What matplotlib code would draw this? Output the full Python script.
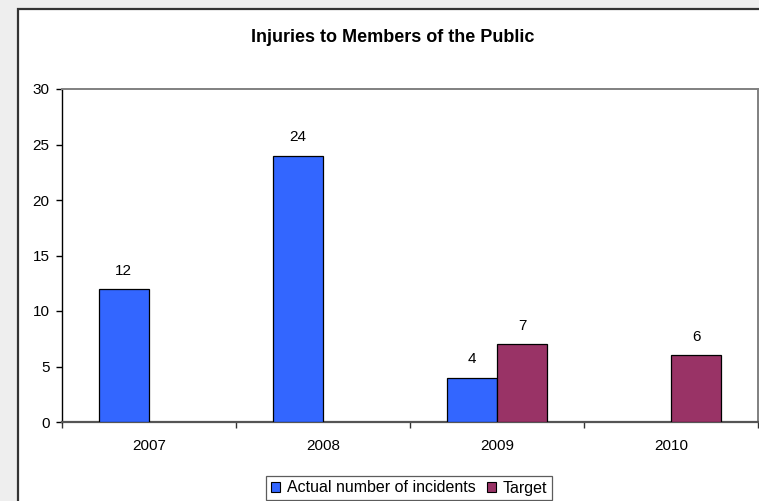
import matplotlib.pyplot as plt
from matplotlib.patches import Rectangle
import numpy as np

plt.rcParams['font.family'] = ['Liberation Sans', 'DejaVu Sans']

years = ['2007', '2008', '2009', '2010']
actual = [12, 24, 4, None]
target = [None, None, 7, 6]
yticks = [0, 5, 10, 15, 20, 25, 30]

fig = plt.figure(figsize=(7.59, 5.01), dpi=100, facecolor='#eeeeee')

# white chart frame running off the right and bottom edges
frame = Rectangle((18 / 759, -0.05), 1.0, 1 - 9 / 501 + 0.05, transform=fig.transFigure,
                  facecolor='white', edgecolor='#333333', lw=1.6, zorder=-5)
fig.add_artist(frame)

ax = fig.add_axes([62 / 759, 1 - 422 / 501, 696 / 759, 333 / 501])
ax.set_facecolor('white')

x = np.arange(len(years))
w = 0.29
blue = '#3366ff'
maroon = '#993366'

for i, v in enumerate(actual):
    if v is None:
        continue
    ax.bar(x[i] - w / 2, v, w, color=blue, edgecolor='black', lw=0.9, zorder=3)
    ax.annotate(str(v), (x[i] - w / 2, v), xytext=(0, 8), textcoords='offset points',
                ha='center', va='bottom', fontsize=11)
for i, v in enumerate(target):
    if v is None:
        continue
    ax.bar(x[i] + w / 2, v, w, color=maroon, edgecolor='black', lw=0.9, zorder=3)
    ax.annotate(str(v), (x[i] + w / 2, v), xytext=(0, 8), textcoords='offset points',
                ha='center', va='bottom', fontsize=11)

ax.set_xlim(-0.5, len(years) - 0.5)
ax.set_ylim(0, 30)
ax.set_yticks(yticks)
ax.set_yticklabels([str(t) for t in yticks])
ax.set_xticks(x)
ax.set_xticklabels(years)
ax.set_xticks(np.arange(len(years) + 1) - 0.5, minor=True)
ax.tick_params(axis='x', which='major', length=0, pad=12, labelsize=11)
ax.tick_params(axis='x', which='minor', length=4, width=1, color='#333333', direction='out')
ax.tick_params(axis='y', length=4, width=1, color='black', direction='out', pad=5, labelsize=11)

for side in ['top', 'right']:
    ax.spines[side].set_color('#808080')
    ax.spines[side].set_linewidth(1.4)
ax.spines['left'].set_color('black')
ax.spines['left'].set_linewidth(1.0)
ax.spines['bottom'].set_color('#555555')
ax.spines['bottom'].set_linewidth(1.6)

fig.text(393 / 759, 1 - 37 / 501, 'Injuries to Members of the Public',
         ha='center', va='center', fontsize=13, fontweight='bold')

handles = [Rectangle((0, 0), 1, 1, facecolor=blue, edgecolor='black', lw=0.8),
           Rectangle((0, 0), 1, 1, facecolor=maroon, edgecolor='black', lw=0.8)]
leg = fig.legend(handles, ['Actual number of incidents', 'Target'], ncol=2,
                 loc='center', bbox_to_anchor=(409 / 759, 1 - 488 / 501),
                 fontsize=11.5, frameon=True, fancybox=False, handlelength=0.6,
                 handleheight=0.6, handletextpad=0.4, columnspacing=0.7,
                 borderpad=0.3, borderaxespad=0)
leg.get_frame().set_edgecolor('#333333')
leg.get_frame().set_linewidth(0.9)

fig.savefig('out.png', dpi=100, facecolor=fig.get_facecolor())
